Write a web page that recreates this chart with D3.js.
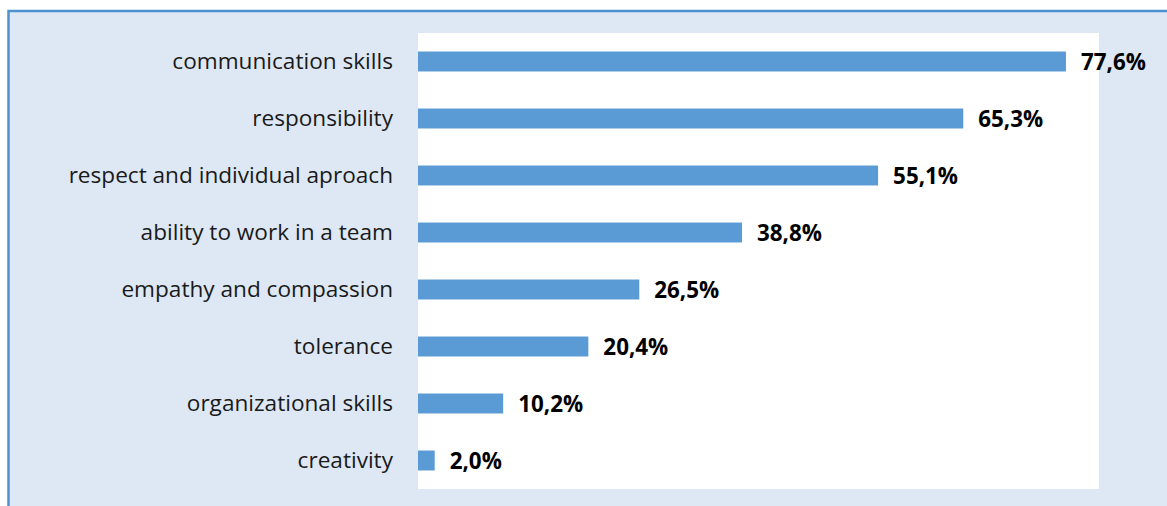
<!DOCTYPE html>
<html><head><meta charset="utf-8">
<script src="https://cdn.jsdelivr.net/npm/d3@7"></script>
<style>html,body{margin:0;padding:0;background:#fff;}svg{display:block;}</style>
</head><body>
<svg id="chart" width="1167" height="506"></svg>
<script>
const categories = ["communication skills","responsibility","respect and individual aproach","ability to work in a team","empathy and compassion","tolerance","organizational skills","creativity"];
const values = [77.6,65.3,55.1,38.8,26.5,20.4,10.2,2.0];
const valueLabels = ["77,6%","65,3%","55,1%","38,8%","26,5%","20,4%","10,2%","2,0%"];

const svg = d3.select("#chart");
// outer frame
svg.append("rect").attr("x",8.5).attr("y",11).attr("width",1170).attr("height",510)
  .attr("fill","#dde8f4").attr("stroke","#4d91d2").attr("stroke-width",2.5);

const plot = {left:418, top:33, right:1099, bottom:489};
svg.append("rect").attr("x",plot.left).attr("y",plot.top)
  .attr("width",plot.right-plot.left).attr("height",plot.bottom-plot.top).attr("fill","#ffffff");

const x = d3.scaleLinear().domain([0,80]).range([plot.left, plot.left+668]);
const y = d3.scaleBand().domain(categories).range([plot.top, plot.bottom]).paddingInner(0.65).paddingOuter(0.325);

const rows = categories.map((c,i)=>({c, v:values[i], l:valueLabels[i]}));

svg.selectAll("rect.bar").data(rows).enter().append("rect").attr("class","bar")
  .attr("x",x(0)).attr("y",d=>y(d.c)).attr("width",d=>x(d.v)-x(0)).attr("height",y.bandwidth())
  .attr("fill","#5b9bd5");

svg.selectAll("text.cat").data(rows).enter().append("text").attr("class","cat")
  .attr("x",plot.left-25).attr("y",d=>y(d.c)+y.bandwidth()/2).attr("dy","0.35em")
  .attr("text-anchor","end").attr("font-family","'Open Sans', 'Noto Sans', sans-serif")
  .attr("font-size",22.6).attr("fill","#1a1a1a").text(d=>d.c);

svg.selectAll("text.val").data(rows).enter().append("text").attr("class","val")
  .attr("x",d=>x(d.v)+15).attr("y",d=>y(d.c)+y.bandwidth()/2).attr("dy","0.36em")
  .attr("font-family","'Open Sans', 'Noto Sans', sans-serif").attr("font-weight","bold")
  .attr("font-size",22.4).attr("fill","#000").text(d=>d.l);
</script>
</body></html>
